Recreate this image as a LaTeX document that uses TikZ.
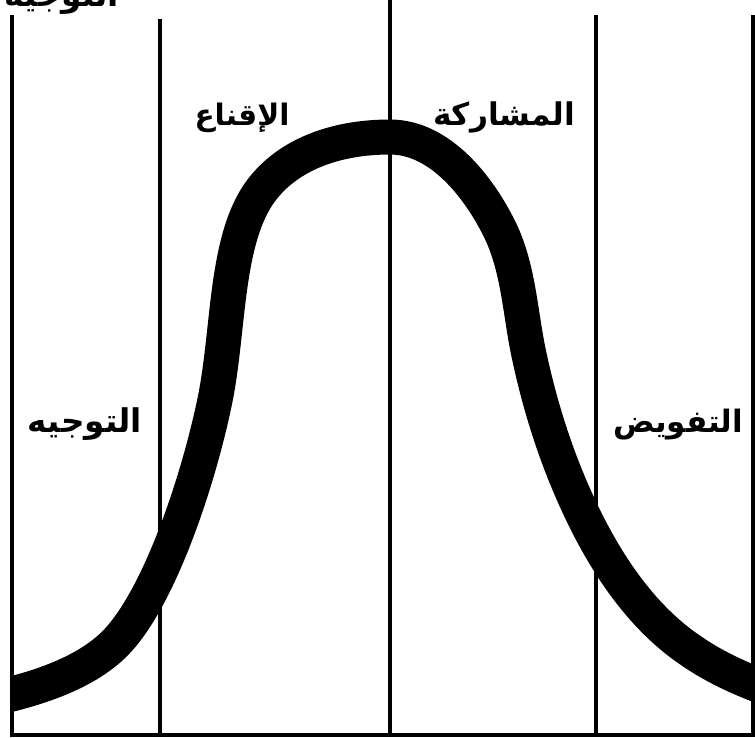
\documentclass[tikz,border=0pt]{standalone}
\usepackage{fontspec}
\newfontfamily\arabicfont[Script=Arabic]{DejaVu Sans}
\TeXXeTstate=1
\newcommand{\arlabel}[2]{\resizebox{#1pt}{!}{\beginR #2\endR}}
\begin{document}
\begin{tikzpicture}[x=1pt,y=-1pt,
  vline/.style={line width=4.5pt},
  bell/.style={line width=35pt, line cap=butt, line join=round},
  lbl/.style={font=\arabicfont\bfseries\fontsize{31}{34}\selectfont, inner sep=0pt}]
\useasboundingbox (0,0) rectangle (755,737);
\fill[white] (0,0) rectangle (755,737);
% bell curve
\begin{scope}
\clip (10,0) rectangle (755,737);
\draw[bell] (-20,701)
  .. controls (27,692) and (88,675) .. (120,638)
  .. controls (162,590) and (199,478) .. (215,400)
  .. controls (229,331) and (225,245) .. (258,195)
  .. controls (285,155) and (335,137) .. (390,137)
  .. controls (440,137) and (479,187) .. (500,230)
  .. controls (518,267) and (520,310) .. (528,350)
  .. controls (540,408) and (558,464) .. (584,517)
  .. controls (609,568) and (643,618) .. (690,650)
  .. controls (723,673) and (757,685) .. (790,697);
\end{scope}
% frame
\coordinate (l1t) at (12,15);  \coordinate (l1b) at (12,737);
\coordinate (l2t) at (160,19); \coordinate (l2b) at (160,737);
\coordinate (l3t) at (390,0);  \coordinate (l3b) at (390,737);
\coordinate (l4t) at (596,15); \coordinate (l4b) at (596,737);
\coordinate (l5t) at (753,15); \coordinate (l5b) at (753,737);
\coordinate (bl) at (10,735); \coordinate (br) at (755,735);
\draw[vline] (l1t) -- (l1b);
\draw[vline] (l2t) -- (l2b);
\draw[vline] (l3t) -- (l3b);
\draw[vline] (l4t) -- (l4b);
\draw[vline] (l5t) -- (l5b);
\draw[line width=3.5pt] (bl) -- (br);
% labels
\node[lbl] (iqna) at (242,118) {\arlabel{95}{الإقناع}};
\node[lbl] (mush) at (504,117) {\arlabel{142}{المشاركة}};
\node[lbl] (tawj) at (85,424) {\arlabel{114}{التوجيه}};
\node[lbl] (tafw) at (678,425) {\arlabel{130}{التفويض}};
% cut-off top label
\begin{scope}
\clip (0,0) rectangle (140,30);
\node[lbl, anchor=base] (top) at (62,6) {\arlabel{114}{التوجيه}};
\end{scope}
\end{tikzpicture}
\end{document}
